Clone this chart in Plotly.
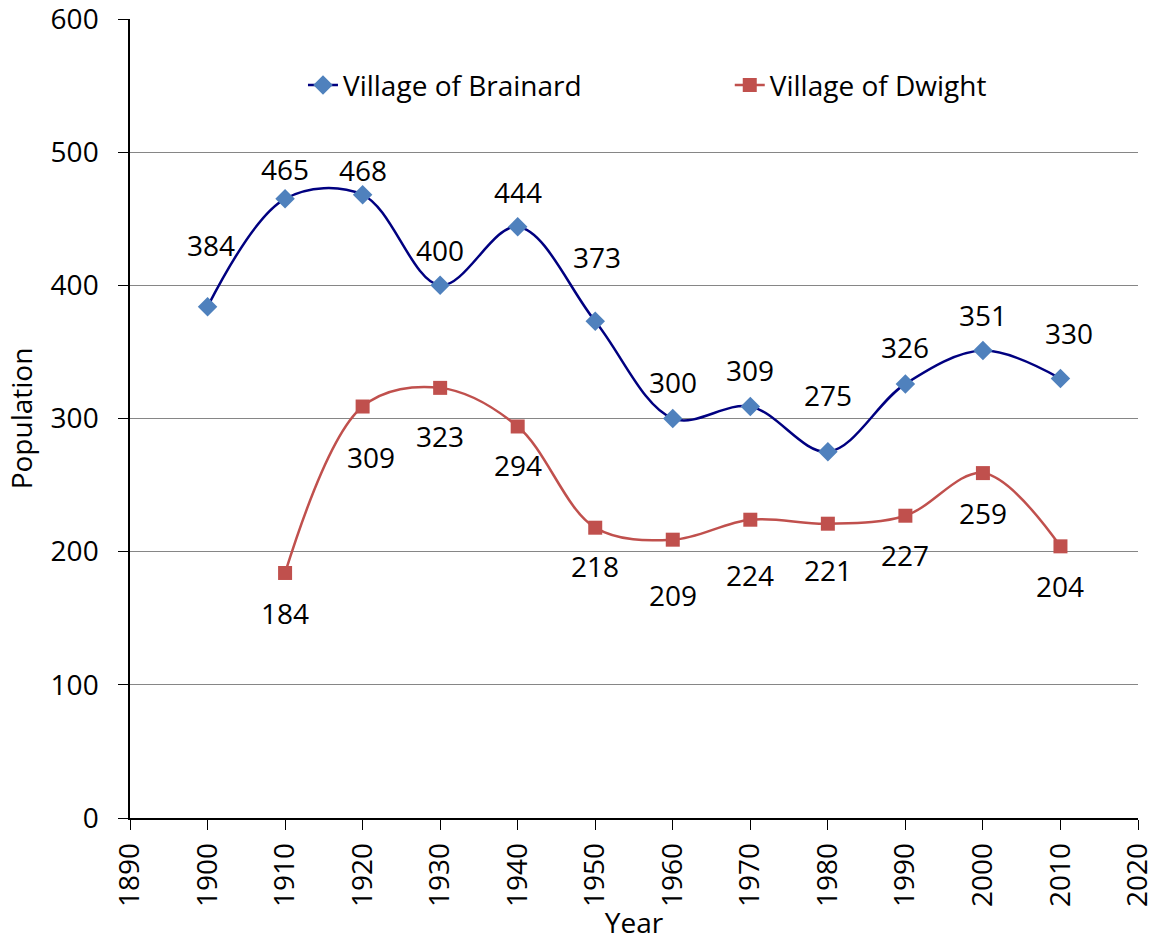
import plotly.graph_objects as go

# ---- data ----
brainard_years = [1900, 1910, 1920, 1930, 1940, 1950, 1960, 1970, 1980, 1990, 2000, 2010]
brainard_pop = [384, 465, 468, 400, 444, 373, 300, 309, 275, 326, 351, 330]
dwight_years = [1910, 1920, 1930, 1940, 1950, 1960, 1970, 1980, 1990, 2000, 2010]
dwight_pop = [184, 309, 323, 294, 218, 209, 224, 221, 227, 259, 204]

# ---- label offsets (style, pixels) ----
brainard_label_dy = [62, 30, 25, 35, 35, 64, 37, 37, 57, 37, 36, 46]
brainard_label_dx = [3, 0, 0, 0, 0, 2, 0, 0, 0, 0, 0, 9]
dwight_label_dy = [-40, -50, -48, -39, -38, -55, -55, -46, -39, -40, -40]
dwight_label_dx = [0, 8, 0, 0, 0, 0, 0, 0, 0, 0, 0]

FONT = "Open Sans"
FS = 28

fig = go.Figure()
fig.add_trace(go.Scatter(
    x=brainard_years, y=brainard_pop, name="Village of Brainard",
    mode="lines+markers", legend="legend",
    line=dict(color="#000080", width=2.5, shape="spline", smoothing=1),
    marker=dict(symbol="diamond", size=15, color="#4F81BD"),
))
fig.add_trace(go.Scatter(
    x=dwight_years, y=dwight_pop, name="Village of Dwight",
    mode="lines+markers", legend="legend2",
    line=dict(color="#C0504D", width=2.5, shape="spline", smoothing=1),
    marker=dict(symbol="square", size=14, color="#C0504D"),
))

annotations = []
for x, y, dx, dy in zip(brainard_years, brainard_pop, brainard_label_dx, brainard_label_dy):
    annotations.append(dict(x=x, y=y, text=str(y), showarrow=False,
                            xshift=dx, yshift=dy,
                            font=dict(family=FONT, size=FS, color="black")))
for x, y, dx, dy in zip(dwight_years, dwight_pop, dwight_label_dx, dwight_label_dy):
    annotations.append(dict(x=x, y=y, text=str(y), showarrow=False,
                            xshift=dx, yshift=dy,
                            font=dict(family=FONT, size=FS, color="black")))

legend_style = dict(orientation="h", xanchor="left", yanchor="middle",
                    bgcolor="rgba(0,0,0,0)", font=dict(family=FONT, size=FS))

fig.update_layout(
    width=1159, height=941,
    margin=dict(l=130, r=21, t=19, b=123),
    paper_bgcolor="white", plot_bgcolor="white",
    font=dict(family=FONT, size=FS, color="black"),
    showlegend=True,
    legend=dict(x=0.1716, y=0.917, **legend_style),
    legend2=dict(x=0.595, y=0.917, **legend_style),
    annotations=annotations,
    xaxis=dict(range=[1890, 2020], dtick=10, tick0=1890, tickangle=-90,
               automargin=False, ticklabeloverflow="allow",
               showgrid=False, zeroline=False,
               showline=True, linecolor="#000000", linewidth=1.5,
               ticks="outside", ticklen=10, tickcolor="#000000",
               ticklabelstandoff=2,
               tickfont=dict(family=FONT, size=FS),
               title=dict(text="Year", font=dict(family=FONT, size=FS), standoff=8)),
    yaxis=dict(range=[0, 600], dtick=100, tick0=0,
               automargin=False, ticklabeloverflow="allow",
               showgrid=True, gridcolor="#868686", gridwidth=1, zeroline=False,
               showline=True, linecolor="#000000", linewidth=1.5,
               ticks="outside", ticklen=10, tickcolor="#000000",
               ticklabelstandoff=14,
               tickfont=dict(family=FONT, size=FS),
               title=dict(text="Population", font=dict(family=FONT, size=FS), standoff=10)),
)

fig.write_html("out.html", config={"displayModeBar": False},
               post_script="document.body.style.margin='0';document.body.style.overflow='hidden';")
